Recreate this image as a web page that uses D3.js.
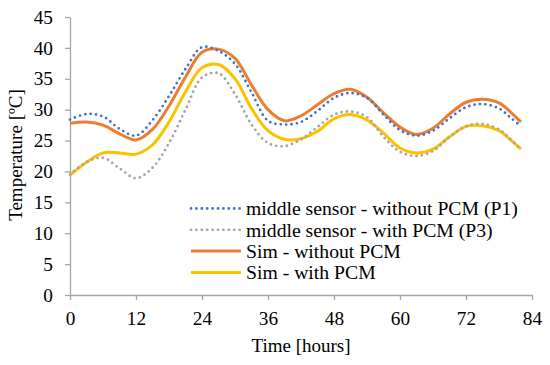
<!DOCTYPE html>
<html>
<head>
<meta charset="utf-8">
<script src="https://cdn.jsdelivr.net/npm/d3@7"></script>
<style>
  body { margin: 0; background: #fff; }
</style>
</head>
<body>
<svg id="chart" width="550" height="365"></svg>
<script>
// ----- data (hours / °C) -----
const hours = [0, 3, 6, 9, 12, 15, 18, 21, 24, 27, 30, 33, 36, 39, 42, 45, 48, 51, 54, 57, 60, 63, 66, 69, 72, 75, 78, 80, 82];
const sensorNoPcm = [28.4, 29.3, 28.9, 26.9, 25.8, 28.3, 32.2, 36.6, 40.1, 39.5, 37.4, 32.8, 28.2, 27.6, 28.0, 29.8, 31.9, 32.7, 31.9, 29.2, 26.7, 25.8, 26.6, 28.6, 30.4, 30.9, 30.2, 28.8, 27.3];
const sensorPcm = [19.5, 21.5, 22.2, 20.5, 18.9, 20.6, 24.6, 30.0, 35.2, 35.9, 32.5, 27.6, 24.6, 24.1, 25.2, 27.2, 29.2, 29.7, 28.8, 25.6, 23.2, 22.5, 23.3, 25.6, 27.3, 27.7, 26.8, 25.3, 23.5];
const simNoPcm = [27.8, 28.0, 27.5, 26.1, 25.1, 26.8, 30.6, 35.3, 39.3, 39.8, 38.3, 34.0, 30.0, 28.2, 29.0, 30.8, 32.6, 33.3, 32.0, 29.5, 27.2, 26.0, 27.0, 29.3, 31.2, 31.7, 31.1, 29.7, 28.0];
const simPcm = [19.4, 21.5, 23.0, 23.0, 22.8, 24.3, 28.0, 32.9, 36.8, 37.3, 35.0, 30.2, 26.6, 25.2, 25.3, 26.5, 28.5, 29.2, 28.3, 26.2, 23.8, 23.0, 23.6, 25.6, 27.3, 27.4, 26.6, 25.2, 23.6];

const xTicks = [0, 12, 24, 36, 48, 60, 72, 84];
const yTicks = [0, 5, 10, 15, 20, 25, 30, 35, 40, 45];

// 系列定义（图例顺序）
const series = [
    { name: "middle sensor - without PCM (P1)", values: sensorNoPcm, color: "#4472c4", dotted: true },
    { name: "middle sensor - with PCM (P3)", values: sensorPcm, color: "#a5a5a5", dotted: true },
    { name: "Sim - without PCM", values: simNoPcm, color: "#ed7d31", dotted: false },
    { name: "Sim - with PCM", values: simPcm, color: "#ffc000", dotted: false }
];

const FONT = "Liberation Serif, Times New Roman, serif";
const svg = d3.select("#chart");
const x = d3.scaleLinear().domain([0, 84]).range([70, 532]);
const y = d3.scaleLinear().domain([0, 45]).range([295, 17]);
const axisColor = "#a6a6a6";

// ----- axes -----
const gx = svg.append("g")
    .attr("transform", `translate(0,${y(0)})`)
    .call(d3.axisBottom(x).tickValues(xTicks).tickSize(5).tickPadding(11).tickSizeOuter(0));
const gy = svg.append("g")
    .attr("transform", `translate(${x(0)},0)`)
    .call(d3.axisLeft(y).tickValues(yTicks).tickSize(5).tickPadding(12).tickSizeOuter(0));
[gx, gy].forEach(g => {
    g.attr("font-family", FONT).attr("font-size", 19);
    g.select(".domain").attr("stroke", axisColor).attr("stroke-width", 1.3);
    g.selectAll(".tick line").attr("stroke", axisColor).attr("stroke-width", 1.3);
    g.selectAll(".tick text").attr("font-family", FONT).attr("font-size", 19.3).attr("fill", "#000");
});

// axis titles
svg.append("text")
    .attr("x", 301).attr("y", 352)
    .attr("text-anchor", "middle")
    .attr("font-family", FONT).attr("font-size", 19)
    .text("Time [hours]");
svg.append("text")
    .attr("transform", "translate(22,155) rotate(-90)")
    .attr("text-anchor", "middle")
    .attr("font-family", FONT).attr("font-size", 19)
    .text("Temperature [ºC]");

// ----- lines -----
const line = d3.line()
    .x((d, i) => x(hours[i]))
    .y(d => y(d))
    .curve(d3.curveCatmullRom.alpha(0.5));

const drawOrder = [2, 3, 0, 1];
drawOrder.forEach(k => {
    const s = series[k];
    const p = svg.append("path")
        .datum(s.values)
        .attr("d", line)
        .attr("fill", "none")
        .attr("stroke", s.color);
    if (s.dotted) {
        p.attr("stroke-width", 2.8)
            .attr("stroke-linecap", "round")
            .attr("stroke-dasharray", "0 5.4");
    } else {
        p.attr("stroke-width", 3);
    }
});

// ----- legend -----
const legend = svg.append("g");
const rowY = [208.5, 229.8, 251.1, 272.4];
series.forEach((s, i) => {
    const l = legend.append("line")
        .attr("x1", 191).attr("x2", 241)
        .attr("y1", rowY[i]).attr("y2", rowY[i])
        .attr("stroke", s.color);
    if (s.dotted) {
        l.attr("stroke-width", 2.8).attr("stroke-linecap", "round").attr("stroke-dasharray", "0 5.4");
    } else {
        l.attr("stroke-width", 3);
    }
    legend.append("text")
        .attr("x", 246).attr("y", rowY[i])
        .attr("dy", "0.35em")
        .attr("font-family", FONT).attr("font-size", 19.7)
        .attr("fill", "#000")
        .text(s.name);
});
</script>
</body>
</html>
